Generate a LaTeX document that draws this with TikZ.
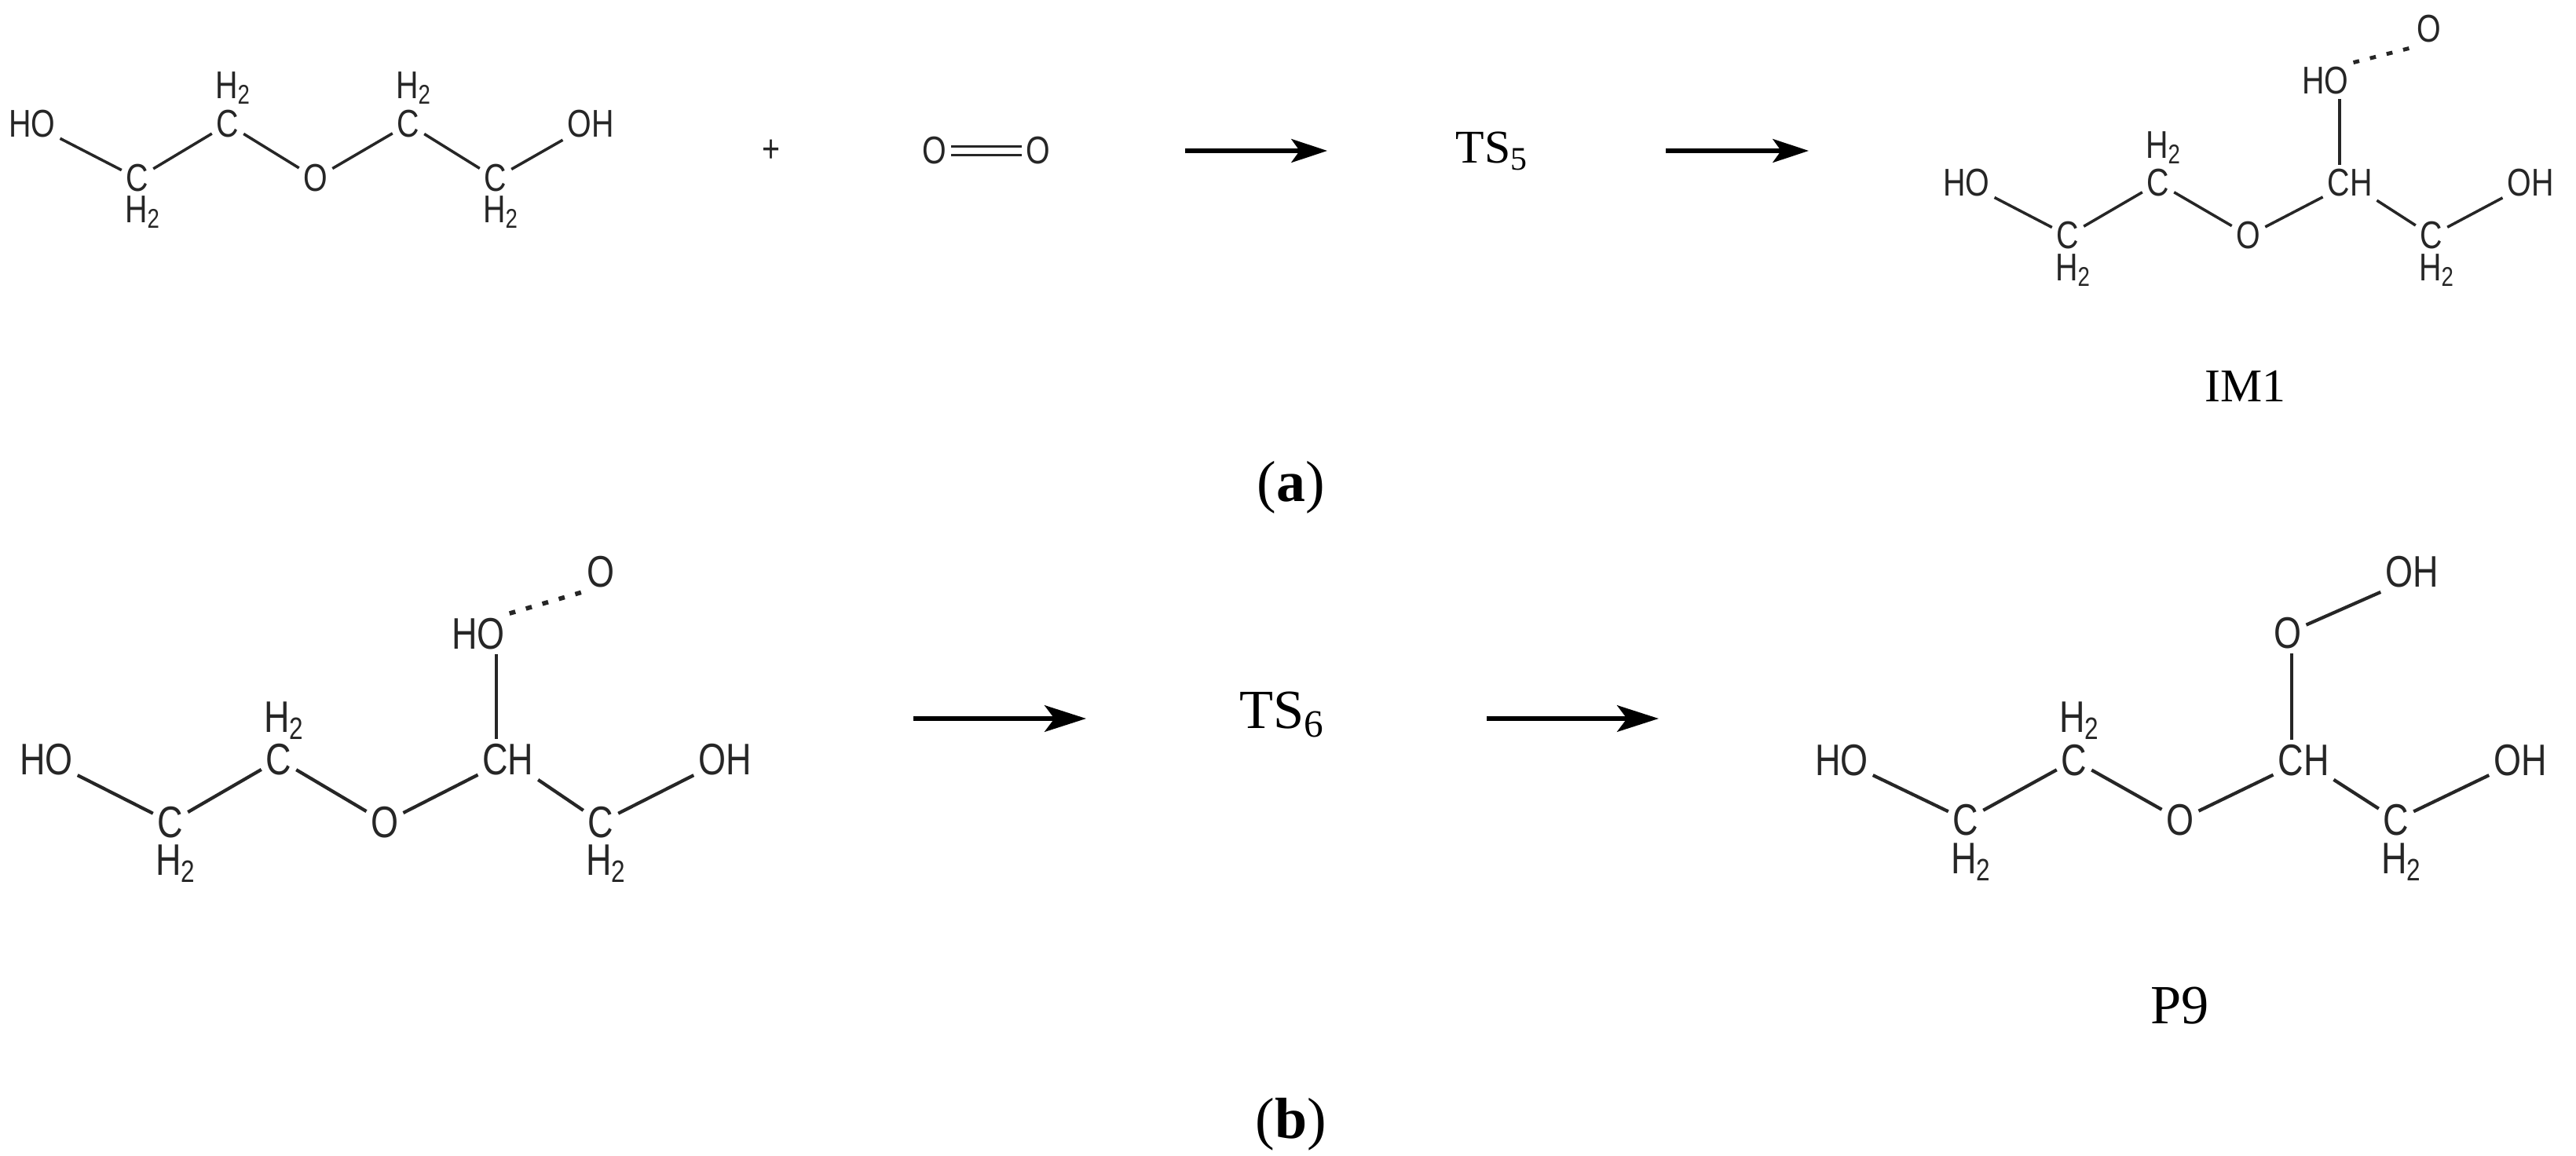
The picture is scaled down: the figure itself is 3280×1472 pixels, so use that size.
\documentclass[tikz,border=0pt]{standalone}
\usepackage{fontspec}
\setmainfont{Liberation Serif}
\setsansfont{Liberation Sans}[FakeStretch=0.8]
\usetikzlibrary{arrows.meta}
\tikzset{
  atA/.style={font=\sffamily\fontsize{14}{16}\selectfont, inner sep=1.5pt, text=black!85},
  atB/.style={font=\sffamily\fontsize{16}{18}\selectfont, inner sep=1.5pt, text=black!85},
  bondA/.style={line width=1.0pt, black!85},
  bondB/.style={line width=1.2pt, black!85},
  hbond/.style={line width=1.4pt, dash pattern=on 2.2pt off 4pt, black!85},
  rxnA/.style={line width=1.5pt, -{Stealth[length=13pt,width=8.5pt,inset=3pt]}},
  rxnB/.style={line width=1.9pt, -{Stealth[length=15pt,width=9.5pt,inset=3.5pt]}},
  lbl/.style={font=\rmfamily\fontsize{17}{19}\selectfont},
  lblB/.style={font=\rmfamily\fontsize{20}{22}\selectfont},
  figcap/.style={font=\rmfamily\fontsize{21}{24}\selectfont}
}
\begin{document}
\begin{tikzpicture}[x=0.01cm,y=-0.01cm]
\useasboundingbox (0,0) rectangle (3280,1472);
% ---------- (a) reactant
\begin{scope}[every node/.style={atA}]
\node (a1) at (41,158) {HO};
\node (a2) at (175,227) {C};
\node (a3) at (290,158) {C};
\node (a4) at (402,227) {O};
\node (a5) at (520,158) {C};
\node (a6) at (631,227) {C};
\node (a7) at (752,158) {OH};
\node (a3h) at (297,112) {H\textsubscript{2}};
\node (a5h) at (527,112) {H\textsubscript{2}};
\node (a2h) at (182,270) {H\textsubscript{2}};
\node (a6h) at (638,270) {H\textsubscript{2}};
\node (pl) at (982,192) {+};
\node (o1) at (1190,192) {O};
\node (o2) at (1322,192) {O};
\end{scope}
\draw[bondA] (a1)--(a2)--(a3)--(a4)--(a5)--(a6)--(a7);
\draw[bondA] ([yshift=1.6pt]o1.east)--([yshift=1.6pt]o2.west);
\draw[bondA] ([yshift=-1.6pt]o1.east)--([yshift=-1.6pt]o2.west);
\coordinate (r1s) at (1509,192); \coordinate (r1e) at (1690,192);
\draw[rxnA] (r1s)--(r1e);
\node[lbl] (ts5) at (1900,192) {TS\textsubscript{5}};
\coordinate (r2s) at (2121,192); \coordinate (r2e) at (2303,192);
\draw[rxnA] (r2s)--(r2e);
% ---------- IM1
\begin{scope}[every node/.style={atA}]
\node (i1) at (2504,233) {HO};
\node (i2) at (2633,300) {C};
\node (i3) at (2748,233) {C};
\node (i4) at (2863,300) {O};
\node (i5) at (2992,233) {CH};
\node (i6) at (3096,300) {C};
\node (i7) at (3222,233) {OH};
\node (i3h) at (2755,188) {H\textsubscript{2}};
\node (i2h) at (2640,344) {H\textsubscript{2}};
\node (i6h) at (3103,344) {H\textsubscript{2}};
\node (iho) at (2961,103) {HO};
\node (io) at (3093,37) {O};
\end{scope}
\draw[bondA] (i1)--(i2)--(i3)--(i4)--(i5)--(i6)--(i7);
\coordinate (iv) at ([xshift=-0.13cm]i5.north);
\draw[bondA] (iv)--(iv |- iho.south);
\draw[hbond] (iho.north east)--(io.south west);
\node[lbl] (im1) at (2859,492) {IM1};
\node[figcap] (capa) at (1644,621) {(\textbf{a})};
% ---------- (b) left
\begin{scope}[every node/.style={atB}]
\node (b1) at (59,967) {HO};
\node (b2) at (217,1047) {C};
\node (b3) at (355,967) {C};
\node (b4) at (490,1047) {O};
\node (b5) at (647,967) {CH};
\node (b6) at (765,1047) {C};
\node (b7) at (923,967) {OH};
\node (b3h) at (362,918) {H\textsubscript{2}};
\node (b2h) at (224,1100) {H\textsubscript{2}};
\node (b6h) at (772,1100) {H\textsubscript{2}};
\node (bho) at (609,807) {HO};
\node (bo) at (765,728) {O};
\end{scope}
\draw[bondB] (b1)--(b2)--(b3)--(b4)--(b5)--(b6)--(b7);
\coordinate (bv) at ([xshift=-0.15cm]b5.north);
\draw[bondB] (bv)--(bv |- bho.south);
\draw[hbond,line width=1.6pt] (bho.north east)--(bo.south west);
\coordinate (r3s) at (1163,915); \coordinate (r3e) at (1383,915);
\draw[rxnB] (r3s)--(r3e);
\node[lblB] (ts6) at (1633,910) {TS\textsubscript{6}};
\coordinate (r4s) at (1893,915); \coordinate (r4e) at (2112,915);
\draw[rxnB] (r4s)--(r4e);
% ---------- P9
\begin{scope}[every node/.style={atB}]
\node (p1) at (2345,968) {HO};
\node (p2) at (2503,1044) {C};
\node (p3) at (2641,968) {C};
\node (p4) at (2776,1044) {O};
\node (p5) at (2933,968) {CH};
\node (p6) at (3051,1044) {C};
\node (p7) at (3209,968) {OH};
\node (p3h) at (2648,918) {H\textsubscript{2}};
\node (p2h) at (2510,1098) {H\textsubscript{2}};
\node (p6h) at (3058,1098) {H\textsubscript{2}};
\node (po) at (2913,806) {O};
\node (poh) at (3071,728) {OH};
\end{scope}
\draw[bondB] (p1)--(p2)--(p3)--(p4)--(p5)--(p6)--(p7);
\coordinate (pv) at ([xshift=-0.15cm]p5.north);
\draw[bondB] (pv)--(pv |- po.south);
\draw[bondB] (po)--(poh.south west);
\node[lblB] (p9) at (2776,1281) {P9};
\node[figcap] (capb) at (1644,1432) {(\textbf{b})};
\end{tikzpicture}
\end{document}
